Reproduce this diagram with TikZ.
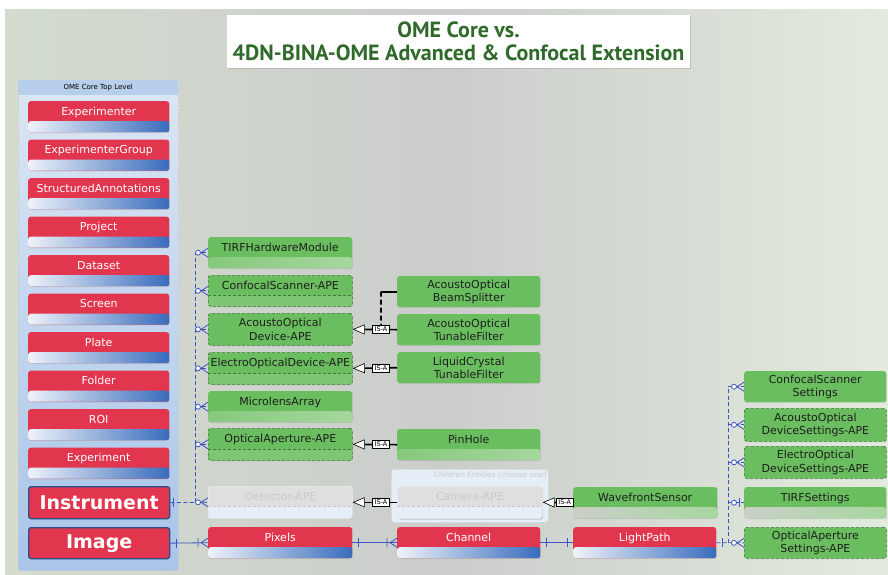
\documentclass[tikz,border=0pt]{standalone}
\usepackage{fontspec}
\setmainfont{DejaVu Sans}
\newfontfamily\headfont{PT Sans}
\usepackage{tikz}
\usetikzlibrary{arrows.meta,positioning,calc,shadows}
\usepackage{xcolor}
\definecolor{bgleft}{HTML}{D3DCCF}
\definecolor{bgmid}{HTML}{CBCDCB}
\definecolor{bgright}{HTML}{E2EBDD}
\definecolor{titlegreen}{HTML}{2F6A2B}
\definecolor{entred}{HTML}{E2364E}
\definecolor{bandlo}{HTML}{EEF2F9}
\definecolor{bandhi}{HTML}{396CBD}
\definecolor{entgreen}{HTML}{6ABE5F}
\definecolor{greenlo}{HTML}{86C97D}
\definecolor{greenhi}{HTML}{A6D79E}
\definecolor{greylo}{HTML}{CBCFC9}
\definecolor{apeline}{HTML}{3E7A3A}
\definecolor{coreblue}{HTML}{2C4F8C}
\definecolor{relblue}{HTML}{3B55C2}
\definecolor{panelhi}{HTML}{DCE6F3}
\definecolor{panello}{HTML}{A9C5E9}
\definecolor{panelhead}{HTML}{B7CFEB}
\definecolor{fadegrey}{HTML}{DFDFDF}
\definecolor{fadeblue}{HTML}{E6EEF7}
\definecolor{fadetext}{HTML}{CBCBCB}
\tikzset{
  ent/.style={rounded corners=2.5pt,inner sep=0pt,minimum width=141pt,
    minimum height=31pt,font=\fontsize{11}{13.3}\selectfont,
    drop shadow={opacity=0.18,shadow xshift=0.6pt,shadow yshift=-0.9pt}},
  banded/.style={text height=11pt,text depth=14pt},
  band/.style={path picture={\shade[#1] (path picture bounding box.south west)
    rectangle ([yshift=11pt]path picture bounding box.south east);}},
  redent/.style={ent,banded,fill=entred,text=white,
    band={left color=bandlo,right color=bandhi}},
  coreent/.style={ent,fill=entred,draw=coreblue,line width=1.3pt,text=white,
    minimum height=32pt,font=\bfseries\fontsize{19}{21}\selectfont},
  greenent/.style={ent,minimum width=144pt,fill=entgreen,text=black!88},
  gband/.style={greenent,banded,band={left color=greenlo,right color=greenhi}},
  greyband/.style={greenent,banded,band={left color=greylo,right color=greenhi}},
  apeent/.style={greenent,draw=apeline,line width=0.7pt,dash pattern=on 3pt off 2pt},
  apeband/.style={apeent,banded,path picture={
    \fill[greenlo!70!entgreen] (path picture bounding box.south west)
      rectangle ([yshift=11pt]path picture bounding box.south east);
    \draw[apeline,line width=0.7pt,dash pattern=on 3pt off 2pt]
      ([yshift=11pt]path picture bounding box.south west) --
      ([yshift=11pt]path picture bounding box.south east);}},
  fadeent/.style={ent,minimum width=144pt,minimum height=32pt,banded,fill=fadegrey,
    text=fadetext,draw=white!92!black,line width=0.6pt,path picture={
    \fill[fadeblue] (path picture bounding box.south west)
      rectangle ([yshift=12pt]path picture bounding box.south east);
    \draw[black!22,dash pattern=on 3pt off 2pt]
      ([yshift=12pt]path picture bounding box.south west) --
      ([yshift=12pt]path picture bounding box.south east);}},
  twoline/.style={align=center},
  titlebox/.style={fill=white,minimum width=463pt,minimum height=53pt,inner sep=0pt,
    align=center,text=titlegreen,font=\headfont\bfseries\fontsize{22}{23}\selectfont,
    drop shadow={opacity=0.3,shadow xshift=0.8pt,shadow yshift=-1.2pt}},
  panel/.style={minimum width=160pt,minimum height=490pt,inner sep=0pt,
    top color=panelhi,bottom color=panello,draw=black!20,line width=0.5pt,
    dash pattern=on 2pt off 1.5pt},
  panelhd/.style={minimum width=160pt,minimum height=15pt,inner sep=0pt,
    fill=panelhead,font=\fontsize{7}{8}\selectfont},
  kidsbox/.style={minimum width=157pt,minimum height=53pt,inner sep=0pt,
    rounded corners=3pt,fill=fadeblue,draw=white!85!black,line width=0.8pt,
    dash pattern=on 3pt off 2pt},
  rel/.style={draw=relblue,line width=0.8pt},
  optrel/.style={rel,dash pattern=on 4pt off 2.5pt},
  isaline/.style={draw=black,line width=1.6pt},
  isa/.style={isaline,-{Triangle[open,fill=white,length=12pt,width=10pt,line width=0.6pt]}},
  isalbl/.style={draw=black,line width=0.5pt,fill=white,text=black,
    font=\fontsize{6.5}{7}\selectfont,inner xsep=2.2pt,inner ysep=1.5pt},
  zmany/.pic={\draw[rel] (-7,0) -- (0,-4.5) (-7,0) -- (0,4.5);
    \draw[rel,fill=white] (-10,0) circle (2.5pt);},
  omany/.pic={\draw[rel] (-7,0) -- (0,-4.5) (-7,0) -- (0,4.5) (-10,-4.5) -- (-10,4.5);},
  onebar/.pic={\draw[rel] (-#1,-4.5) -- (-#1,4.5);},
  zone/.pic={\draw[rel] (-5,-4.5) -- (-5,4.5);
    \draw[rel,fill=white] (-10,0) circle (2.5pt);}
}
\begin{document}
\begin{tikzpicture}[x=1pt,y=-1pt]
  \useasboundingbox (0,0) rectangle (888,574);
  \fill[white] (0,0) rectangle (888,574);
  \shade[left color=bgleft,right color=bgright,middle color=bgmid] (5,9) rectangle (888,574);

  \node[titlebox] (title) at (458.5,41.5) {OME Core vs.\\4DN-BINA-OME Advanced \& Confocal Extension};

  % core top level
  \node[panel,anchor=north west] (core) at (18,80) {};
  \node[panelhd,anchor=north west] (corehd) at (18,80) {OME Core Top Level};
  \foreach \n/\t [count=\i from 0] in {exper/Experimenter,group/ExperimenterGroup,
      annot/StructuredAnnotations,proj/Project,dset/Dataset,screen/Screen,
      plate/Plate,folder/Folder,roi/ROI,expt/Experiment}
    \node[redent,anchor=north west] (\n) at (28,{101+38.5*\i}) {\t};
  \node[coreent,anchor=north west] (instr) at (28,486) {Instrument};
  \node[coreent,anchor=north west,minimum height=31pt] (img) at (28,527) {Image};

  % hardware
  \node[gband,anchor=north west] (tirf) at (208,237) {TIRFHardwareModule};
  \node[apeband,anchor=north west] (conf) at (208,275) {ConfocalScanner-APE};
  \node[apeent,twoline,anchor=north west,minimum height=32pt] (aod) at (208,313) {AcoustoOptical\\Device-APE};
  \node[apeband,anchor=north west,minimum height=32pt] (eod) at (208,352) {ElectroOpticalDevice-APE};
  \node[gband,anchor=north west] (mla) at (208,391) {MicrolensArray};
  \node[apeband,anchor=north west,minimum height=32pt] (oap) at (208,428) {OpticalAperture-APE};
  \node[fadeent,anchor=north west] (det) at (208,486) {Detector-APE};
  \node[redent,anchor=north west,minimum width=144pt] (pix) at (208,527) {Pixels};

  \node[greenent,twoline,anchor=north west,minimum width=143pt] (bsplit) at (397,276) {AcoustoOptical\\BeamSplitter};
  \node[greenent,twoline,anchor=north west,minimum width=143pt] (tfilt) at (397,314) {AcoustoOptical\\TunableFilter};
  \node[greenent,twoline,anchor=north west,minimum width=143pt] (lcf) at (397,352) {LiquidCrystal\\TunableFilter};
  \node[gband,anchor=north west,minimum width=143pt] (pin) at (397,429) {PinHole};
  \node[kidsbox,anchor=north west] (kids) at (391,469) {};
  \node[anchor=north east,text=fadetext,font=\fontsize{7.5}{8}\selectfont,inner sep=1pt]
    (kidslbl) at ($(kids.north east)+(-1,1.5)$) {Children Entities (choose one)};
  \node[fadeent,anchor=north west,minimum width=145pt,
    drop shadow={opacity=0.35,shadow xshift=0.8pt,shadow yshift=-1.2pt}] (cam) at (397,486) {Camera-APE};
  \node[redent,anchor=north west,minimum width=143pt] (chan) at (397,527) {Channel};

  \node[greyband,anchor=north west] (wf) at (573,487) {WavefrontSensor};
  \node[redent,anchor=north west,minimum width=143pt] (lp) at (573,527) {LightPath};

  % settings
  \node[greenent,twoline,anchor=north west,minimum width=142pt] (csset) at (744,371) {ConfocalScanner\\Settings};
  \node[apeent,twoline,anchor=north west,minimum width=142pt,minimum height=33pt] (aodset) at (744,408) {AcoustoOptical\\DeviceSettings-APE};
  \node[apeent,twoline,anchor=north west,minimum width=142pt,minimum height=32pt] (eodset) at (744,446) {ElectroOptical\\DeviceSettings-APE};
  \node[greyband,anchor=north west,minimum width=142pt] (tirfset) at (744,487) {TIRFSettings};
  \node[apeent,twoline,anchor=north west,minimum width=142pt] (oapset) at (744,527) {OpticalAperture\\Settings-APE};

  % instrument relations
  \coordinate (hwbus) at (195,502);
  \draw[optrel] (instr.east) -- (det.west);
  \draw[optrel] (hwbus) -- (hwbus |- tirf.west);
  \foreach \n in {tirf,conf,aod,eod,mla,oap} {
    \draw[optrel] (hwbus |- \n.west) -- (\n.west);
    \pic at (\n.west) {zmany};
  }
  \pic[xscale=-1] at (instr.east) {onebar=3};
  \pic at (det.west) {zmany};

  % is-a
  \draw[isa] (tfilt.west) -- node[isalbl,pos=0.36] (isa1) {IS-A} (aod.east);
  \draw[isa] (lcf.west) -- node[isalbl,pos=0.36] (isa2) {IS-A} (eod.east);
  \draw[isa] (pin.west) -- node[isalbl,pos=0.36] (isa3) {IS-A} (oap.east);
  \draw[isa] (cam.west) -- node[isalbl,pos=0.36] (isa4) {IS-A} (det.east);
  \draw[isa] (wf.west) -- node[isalbl,pos=0.27] (isa5) {IS-A} (cam.east);
  \draw[isaline] (bsplit.west) -- ++(-16,0) coordinate (bsbend);
  \draw[isaline,dash pattern=on 5pt off 3pt] (bsbend) -- (isa1.north);

  % image chain
  \draw[rel] (img.east) -- (pix.west);
  \draw[rel] (pix.east) -- (chan.west);
  \draw[rel] (chan.east) -- (lp.west);
  \pic[xscale=-1] at (img.east) {onebar=6};
  \pic at (pix.west) {omany};
  \pic[xscale=-1] at (pix.east) {onebar=6};
  \pic at (chan.west) {omany};
  \pic[xscale=-1] at (chan.east) {onebar=6};
  \pic at (lp.west) {onebar=6};

  % light path settings
  \coordinate (setbus) at ($(lp.east)+(12,0)$);
  \draw[optrel] (lp.east) -- (oapset.west);
  \draw[optrel] (setbus) -- (setbus |- csset.west);
  \foreach \n in {csset,aodset,eodset,tirfset}
    \draw[optrel] (setbus |- \n.west) -- (\n.west);
  \pic[xscale=-1] at (lp.east) {onebar=6};
  \foreach \n in {csset,aodset,eodset,oapset}
    \pic at (\n.west) {zmany};
  \pic at (tirfset.west) {zone};
\end{tikzpicture}
\end{document}
